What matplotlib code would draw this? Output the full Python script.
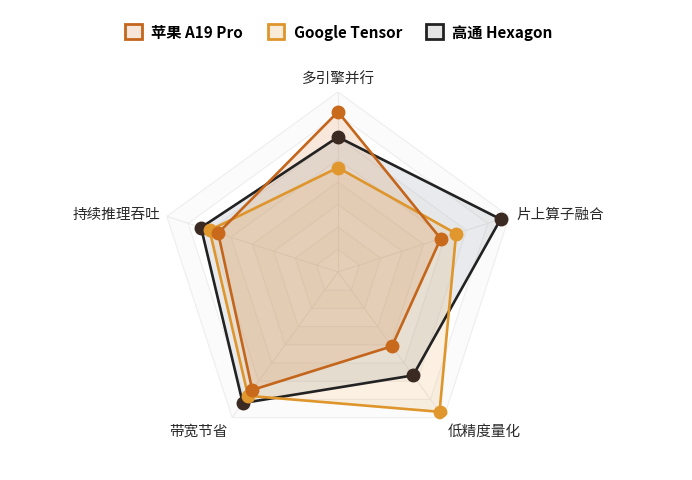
import numpy as np
import matplotlib
matplotlib.use("Agg")
import matplotlib.pyplot as plt
from matplotlib.patches import Patch

plt.rcParams['font.family'] = ['Noto Sans CJK SC', 'DejaVu Sans']

indicators = ['多引擎并行', '片上算子融合', '低精度量化', '带宽节省', '持续推理吞吐']
apple_a19 = [89, 60, 51, 81, 70]
google_tensor = [58, 69, 96, 85, 75]
qualcomm_hexagon = [75, 95, 71, 90, 80]

series_names = ['苹果 A19 Pro', 'Google Tensor', '高通 Hexagon']
line_colors = ['#C4651C', '#DE952C', '#222222']
marker_colors = ['#C8691B', '#E0982E', '#3A2A22']
fill_colors = ['#D9843A', '#E8A64E', '#9AA3AD']
fill_alphas = [0.18, 0.16, 0.22]

max_value = 100
n_rings = 8


def main():
    fig = plt.figure(figsize=(6.92, 4.81), dpi=100)
    ax = fig.add_axes([0.2283, 0.0582, 0.5202, 0.7484], projection='polar')
    ax.set_theta_offset(np.pi / 2)
    ax.set_theta_direction(-1)
    ax.set_ylim(0, max_value)
    ax.grid(False)
    ax.spines['polar'].set_visible(False)
    ax.set_xticks([])
    ax.set_yticks([])
    ax.patch.set_alpha(0)

    n = len(indicators)
    angles = np.linspace(0, 2 * np.pi, n, endpoint=False)
    closed = np.concatenate([angles, angles[:1]])

    # split areas and rings, very faint
    for i in range(n_rings, 0, -1):
        r = max_value * i / n_rings
        shade = '#FBFBFB' if i % 2 == 0 else '#FFFFFF'
        ax.fill(closed, [r] * (n + 1), color=shade, zorder=0, linewidth=0)
        ax.plot(closed, [r] * (n + 1), color='#EEEEEE', linewidth=0.8, zorder=1)
    for a in angles:
        ax.plot([a, a], [0, max_value], color='#EBEBEB', linewidth=0.8, zorder=1)

    data = [apple_a19, google_tensor, qualcomm_hexagon]
    order = [2, 1, 0]
    for k in order:
        vals = list(data[k]) + [data[k][0]]
        ax.fill(closed, vals, color=fill_colors[k], alpha=fill_alphas[k], zorder=2, linewidth=0)
    for k in order:
        vals = list(data[k]) + [data[k][0]]
        ax.plot(closed, vals, color=line_colors[k], linewidth=1.9, zorder=3 + (3 - k))
        ax.plot(angles, data[k], 'o', color=marker_colors[k], markersize=9, zorder=4 + (3 - k))

    # axis names
    label_r = 104
    aligns = [('center', 'bottom'), ('left', 'center'), ('left', 'top'),
              ('right', 'top'), ('right', 'center')]
    for a, name, (ha, va) in zip(angles, indicators, aligns):
        ax.text(a, label_r, name, ha=ha, va=va, fontsize=10.5, color='#2A2A2A',
                fontweight='medium')

    handles = [Patch(facecolor=fc, edgecolor=lc, linewidth=2)
               for fc, lc in zip(['#F6E6DA', '#FAEBD8', '#E4E4E4'], line_colors)]
    fig.legend(handles, series_names, loc='upper center', bbox_to_anchor=(0.49, 0.977),
               ncol=3, frameon=False, handlelength=1.1, handleheight=1.1,
               handletextpad=0.6, columnspacing=1.6,
               prop={'size': 11, 'weight': 'bold'})

    fig.savefig('out.png', dpi=100, facecolor='white')


if __name__ == "__main__":
    main()
